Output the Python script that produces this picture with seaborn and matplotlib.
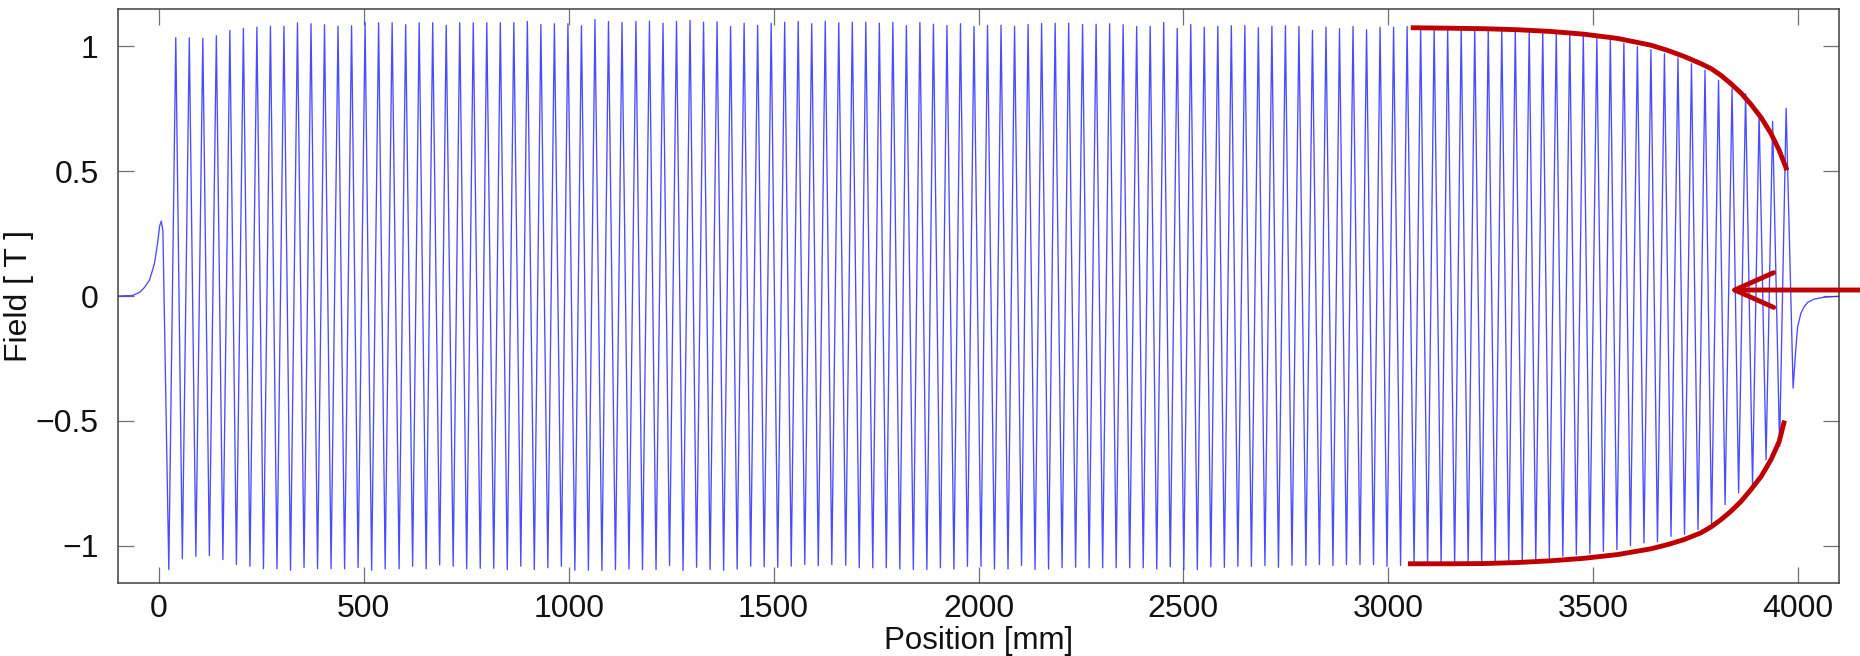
import numpy as np
import pandas as pd
import matplotlib
matplotlib.use("Agg")
import matplotlib.pyplot as plt
import seaborn as sns

# ---------------- data ----------------
lead_in_mm = [-100, -64, -47, -35, -23, -11, -2.6, 1.5, 5.6, 9.6]
lead_in_T = [0.0, 0.002, 0.015, 0.035, 0.064, 0.13, 0.22, 0.28, 0.30, 0.26]

trough_mm = [24, 57, 90, 123, 156, 189, 222, 255, 288, 321, 354, 387, 420, 453, 486,
             519, 552, 586, 619, 652, 685, 718, 751, 784, 817, 850, 883, 916, 949, 982,
             1015, 1048, 1081, 1114, 1147, 1180, 1213, 1246, 1279, 1312, 1345, 1378, 1411,
             1444, 1477, 1510, 1543, 1576, 1609, 1642, 1676, 1709, 1742, 1775, 1808, 1841,
             1874, 1907, 1940, 1973, 2006, 2039, 2072, 2105, 2138, 2171, 2204, 2237, 2270,
             2303, 2336, 2369, 2402, 2435, 2468, 2501, 2534, 2567, 2600, 2633, 2666, 2699,
             2732, 2765, 2799, 2832, 2865, 2898, 2931, 2964, 2997, 3030, 3063, 3096, 3129,
             3162, 3195, 3228, 3261, 3294, 3327, 3360, 3393, 3426, 3459, 3492, 3525, 3558,
             3591, 3624, 3657, 3690, 3723, 3756, 3789, 3822, 3855, 3889, 3922, 3955, 3988]
trough_T = [-1.096, -1.053, -1.043, -1.040, -1.056, -1.076, -1.083, -1.093, -1.093, -1.099,
            -1.088, -1.093, -1.093, -1.093, -1.088, -1.099, -1.093, -1.093, -1.083, -1.093,
            -1.077, -1.083, -1.093, -1.091, -1.091, -1.096,
            -1.083, -1.096, -1.089, -1.083, -1.099, -1.099, -1.100, -1.096, -1.094, -1.096,
            -1.096, -1.080, -1.100, -1.087, -1.096, -1.099, -1.094, -1.083, -1.085, -1.087,
            -1.083, -1.076, -1.080, -1.076, -1.079, -1.089, -1.089, -1.089, -1.094, -1.096,
            -1.096,
            -1.089, -1.094, -1.083, -1.083, -1.094, -1.094, -1.080, -1.096, -1.094, -1.089,
            -1.087, -1.089, -1.089, -1.089, -1.089, -1.089, -1.094, -1.085, -1.096, -1.096,
            -1.085, -1.087, -1.083, -1.083, -1.080, -1.087, -1.079, -1.079, -1.076, -1.080,
            -1.076,
            -1.076, -1.076, -1.083, -1.080, -1.080, -1.080, -1.078, -1.078, -1.076, -1.075,
            -1.072, -1.070, -1.066, -1.060, -1.053, -1.043, -1.037, -1.032, -1.023, -1.016,
            -1.000, -0.989, -0.985, -0.963, -0.955, -0.936, -0.929, -0.836, -0.789, -0.763,
            -0.656, -0.603, -0.369]

peak_mm = [41, 74, 107, 140, 173, 206, 239, 272, 305, 338, 371, 404, 437, 470, 503, 536,
           569, 602, 635, 668, 701, 734, 767, 800, 833, 866, 899, 932, 965, 998, 1031, 1064,
           1097, 1130, 1164, 1197, 1230, 1263, 1296, 1329, 1362, 1395, 1428, 1461, 1494,
           1527, 1560, 1593, 1626, 1659, 1692, 1725, 1758, 1791, 1824, 1857, 1890, 1923,
           1956, 1989, 2022, 2055, 2088, 2121, 2154, 2187, 2220, 2254, 2287, 2320, 2353,
           2386, 2419, 2452, 2485, 2518, 2551, 2584, 2617, 2650, 2683, 2716, 2749, 2782,
           2815, 2848, 2881, 2914, 2947, 2980, 3013, 3046, 3079, 3112, 3145, 3178, 3211,
           3244, 3277, 3310, 3344, 3377, 3410, 3443, 3476, 3509, 3542, 3575, 3608, 3641,
           3674, 3707, 3740, 3773, 3806, 3839, 3872, 3905, 3938, 3971]
peak_T = [1.035, 1.035, 1.033, 1.043, 1.064, 1.072, 1.077, 1.081, 1.081, 1.095, 1.091, 1.087,
          1.081, 1.083, 1.096, 1.095, 1.095, 1.087, 1.095, 1.095, 1.085, 1.095, 1.095, 1.095,
          1.095, 1.095,
          1.100, 1.088, 1.091, 1.091, 1.083, 1.108, 1.100, 1.096, 1.100, 1.101, 1.093, 1.100,
          1.104, 1.097, 1.099, 1.080, 1.093, 1.084, 1.093, 1.097, 1.100, 1.091, 1.101, 1.095,
          1.097, 1.097, 1.093, 1.096, 1.083, 1.096, 1.089,
          1.084, 1.091, 1.080, 1.084, 1.085, 1.081, 1.088, 1.092, 1.093, 1.093, 1.088, 1.089,
          1.091, 1.087, 1.080, 1.080, 1.096, 1.072, 1.088, 1.077, 1.080, 1.083, 1.084, 1.075,
          1.081, 1.083, 1.080, 1.064, 1.077, 1.071, 1.080,
          1.067, 1.077, 1.077, 1.080, 1.075, 1.076, 1.075, 1.075, 1.074, 1.073, 1.072, 1.070,
          1.067, 1.064, 1.061, 1.056, 1.045, 1.035, 1.024, 1.013, 1.000, 0.987, 0.971, 0.955,
          0.931, 0.905, 0.864, 0.830, 0.810, 0.730, 0.700, 0.752]

tail_mm = [3995, 3999, 4007, 4015, 4024, 4040, 4064, 4100]
tail_T = [-0.203, -0.123, -0.069, -0.043, -0.025, -0.012, -0.005, -0.001]

# red annotation curves (envelope) and arrow
upper_env_mm = [3055, 3152, 3234, 3315, 3397, 3478, 3560, 3641, 3682, 3722, 3763, 3788,
                3812, 3836, 3861, 3885, 3910, 3934, 3954, 3973]
upper_env_T = [1.075, 1.073, 1.071, 1.067, 1.060, 1.049, 1.032, 1.005, 0.984, 0.960, 0.931,
               0.911, 0.884, 0.851, 0.813, 0.768, 0.715, 0.651, 0.584, 0.504]
lower_env_mm = [3048, 3152, 3234, 3315, 3397, 3478, 3560, 3641, 3682, 3722, 3763, 3788,
                3812, 3836, 3861, 3885, 3910, 3934, 3954, 3967]
lower_env_T = [-1.073, -1.073, -1.072, -1.068, -1.061, -1.051, -1.036, -1.013, -0.996, -0.976,
               -0.949, -0.925, -0.896, -0.863, -0.823, -0.776, -0.723, -0.656, -0.583, -0.499]
arrow_tip = (3831, 0.024)

x_ticks = [0, 500, 1000, 1500, 2000, 2500, 3000, 3500, 4000]
y_ticks = [-1, -0.5, 0, 0.5, 1]
y_ticklabels = ["\u22121", "\u22120.5", "0", "0.5", "1"]

for a, b in [(trough_mm, trough_T), (peak_mm, peak_T), (lead_in_mm, lead_in_T),
             (tail_mm, tail_T), (upper_env_mm, upper_env_T), (lower_env_mm, lower_env_T)]:
    if len(a) != len(b):
        raise ValueError(f"length mismatch {len(a)} vs {len(b)}")

# ---------------- figure ----------------
sns.set_theme(style="white")
plt.rcParams['font.family'] = ['Liberation Sans', 'DejaVu Sans']

df = pd.DataFrame({
    "mm": lead_in_mm + trough_mm + peak_mm + tail_mm,
    "T": lead_in_T + trough_T + peak_T + tail_T,
}).sort_values("mm")

fig = plt.figure(figsize=(18.6, 6.56), dpi=100)
ax = fig.add_axes([118 / 1860, 1 - 583 / 656, (1839 - 118) / 1860, (583 - 9) / 656])

sns.lineplot(data=df, x="mm", y="T", estimator=None, sort=True, ax=ax,
             color="#2a2aff", lw=0.95, alpha=0.85)

red = "#c00000"
sns.lineplot(x=upper_env_mm, y=upper_env_T, estimator=None, sort=False, ax=ax,
             color=red, lw=3.5, solid_capstyle="butt")
sns.lineplot(x=lower_env_mm, y=lower_env_T, estimator=None, sort=False, ax=ax,
             color=red, lw=3.5, solid_capstyle="butt")

ax.annotate("", xy=arrow_tip, xycoords="data",
            xytext=(1.0, arrow_tip[1]), textcoords=("figure fraction", "data"),
            arrowprops=dict(arrowstyle="->,head_length=2.8,head_width=1.25",
                            color=red, lw=3.5, mutation_scale=10,
                            shrinkA=0, shrinkB=0, capstyle="round"),
            annotation_clip=False)

ax.set_xlim(-100, 4100)
ax.set_ylim(-1.15, 1.15)
ax.set_xticks(x_ticks)
ax.set_xticklabels([str(t) for t in x_ticks])
ax.set_yticks(y_ticks)
ax.set_yticklabels(y_ticklabels)

ax.tick_params(axis="both", which="major", direction="in", length=11.5, width=0.9,
               color="#707070", labelsize=23, labelcolor="#111111",
               top=True, right=True, bottom=True, left=True)
ax.tick_params(axis="x", pad=8)
ax.tick_params(axis="y", pad=14)
for s in ax.spines.values():
    s.set_color("#404040")
    s.set_linewidth(1.1)
    s.set_visible(True)

ax.set_xlabel("Position [mm]", fontsize=22.5, color="#111111", labelpad=1)
ax.set_ylabel("Field [ T ]", fontsize=23, color="#111111")
ax.yaxis.set_label_coords(-0.049, 0.5)
ax.grid(False)

fig.savefig("out.png", dpi=100)
